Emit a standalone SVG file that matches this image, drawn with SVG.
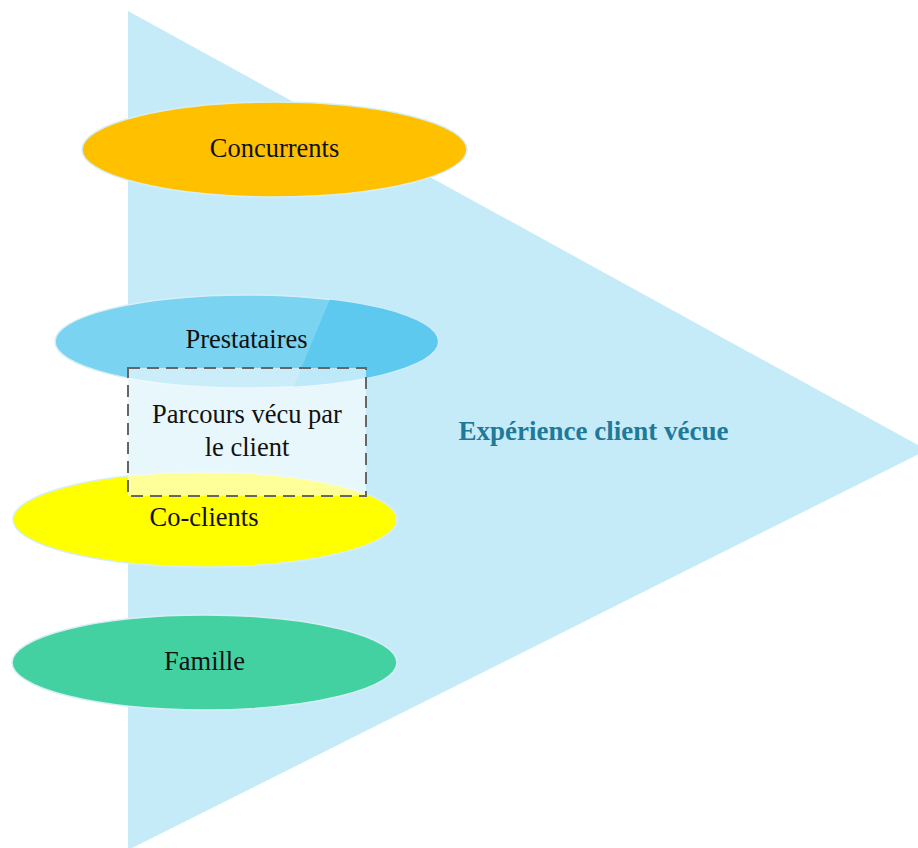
<svg xmlns="http://www.w3.org/2000/svg" width="918" height="848" viewBox="0 0 918 848">
<style>
.lbl{font-family:"Liberation Serif","Times New Roman",serif;font-size:26.5px;fill:#111;text-anchor:middle}
.ell{stroke:#d6eff6;stroke-width:1.5}
</style>
<defs>
<clipPath id="presClip"><polygon points="338,280 460,280 460,400 288,400"/></clipPath>
</defs>
<rect width="918" height="848" fill="#fff"/>
<g id="triangle">
<polygon points="128,11 927,450 128,850" fill="#C6EBF8"/>
<text x="593.5" y="440" font-family="'Liberation Serif','Times New Roman',serif" font-size="27" font-weight="bold" fill="#1F7A99" text-anchor="middle">Expérience client vécue</text>
</g>
<g id="concurrents">
<ellipse class="ell" cx="274.5" cy="149.5" rx="192.5" ry="47.5" fill="#FFC000" stroke="#9fd6df"/>
<text class="lbl" x="274.5" y="157">Concurrents</text>
</g>
<g id="prestataires">
<ellipse class="ell" cx="246.5" cy="341.5" rx="191.5" ry="46.5" fill="#7AD3F0"/>
<ellipse cx="246.5" cy="341.5" rx="191.5" ry="46.5" fill="#5DC9EE" clip-path="url(#presClip)"/>
<text class="lbl" x="246.5" y="348">Prestataires</text>
</g>
<g id="co-clients">
<ellipse class="ell" cx="205" cy="519.5" rx="192" ry="47.5" fill="#FFFF00"/>
<text class="lbl" x="204" y="526">Co-clients</text>
</g>
<g id="famille">
<ellipse class="ell" cx="204.5" cy="662.5" rx="192.5" ry="47.5" fill="#44D1A2"/>
<text class="lbl" x="204.5" y="670">Famille</text>
</g>
<g id="parcours">
<rect x="128" y="368" width="238" height="128" fill="#fff" fill-opacity="0.6" stroke="#666" stroke-width="2" stroke-dasharray="12,7"/>
<text class="lbl" x="247" y="423">Parcours vécu par</text>
<text class="lbl" x="247" y="456">le client</text>
</g>
<g id="connectors"></g>
</svg>
